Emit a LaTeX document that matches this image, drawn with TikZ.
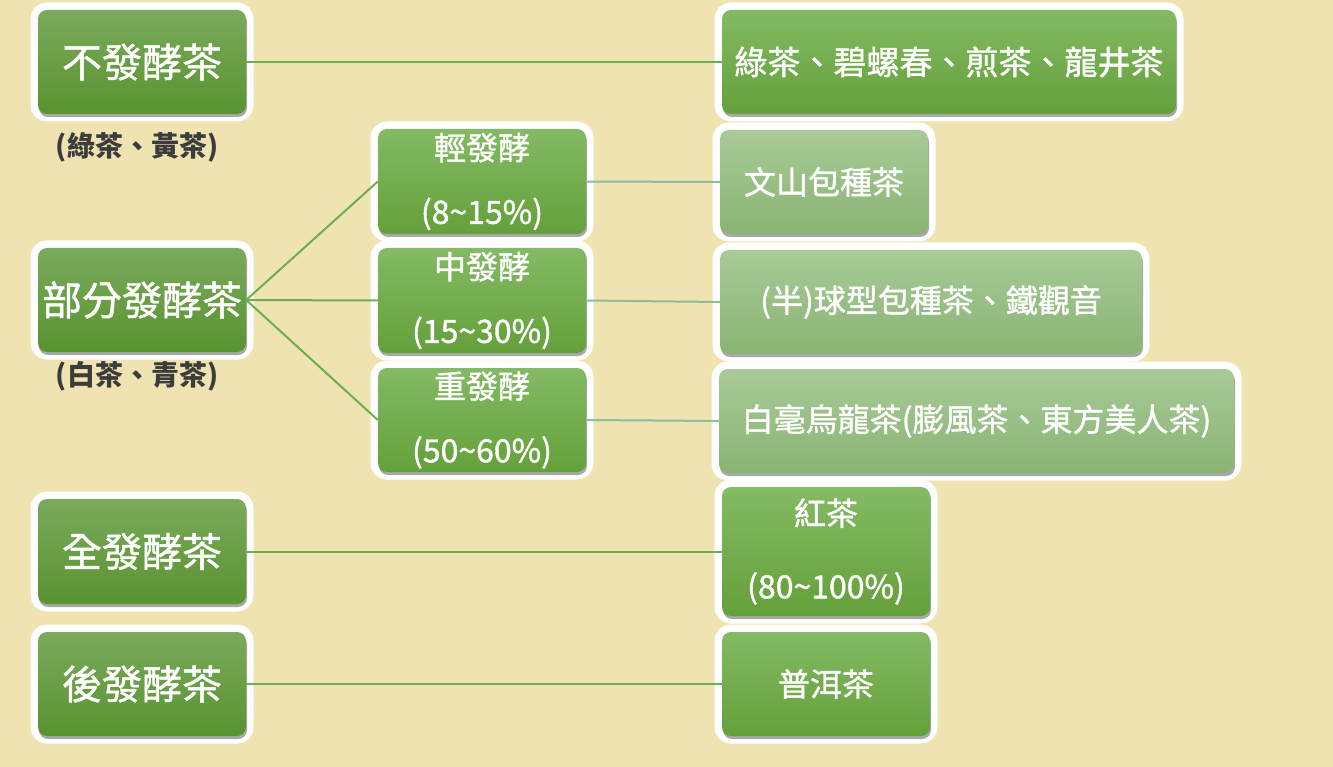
\documentclass[tikz,border=0pt]{standalone}
\usepackage{fontspec}
\setmainfont{Noto Sans CJK TC}
\newfontfamily\boxfont[FakeBold=1.2]{Noto Sans CJK TC}
\usetikzlibrary{shadows}
\definecolor{bg}{HTML}{EFE3B1}
\definecolor{dtop}{HTML}{7AAA5C}
\definecolor{dbot}{HTML}{5A9330}
\definecolor{mtop}{HTML}{84BA64}
\definecolor{mbot}{HTML}{64A03A}
\definecolor{ltop}{HTML}{A8CA98}
\definecolor{lbot}{HTML}{89B473}
\definecolor{linkg}{HTML}{6FAE50}
\definecolor{linkt}{HTML}{8DBE9C}
\definecolor{subt}{HTML}{3C3C3C}
\tikzset{
  boxbase/.style={rectangle, rounded corners=9pt, inner sep=0pt, text=white, align=center,
    preaction={draw=white, line width=15pt},
    drop shadow={shadow xshift=1pt, shadow yshift=-3pt, opacity=0.45, fill=black!75}},
  darkbox/.style={boxbase, top color=dtop, bottom color=dbot, font=\boxfont\fontsize{40}{48}\selectfont},
  midbox/.style={boxbase, top color=mtop, bottom color=mbot, font=\boxfont\fontsize{32}{38}\selectfont},
  lightbox/.style={boxbase, top color=ltop, bottom color=lbot, font=\boxfont\fontsize{32}{38}\selectfont},
  subtitle/.style={text=subt, font=\fontsize{28}{32}\selectfont\bfseries, inner sep=0pt},
  linkA/.style={draw=linkg, line width=2pt},
  linkB/.style={draw=linkt, line width=2pt}
}
\begin{document}
\begin{tikzpicture}[x=1pt,y=-1pt]
\fill[bg] (0,0) rectangle (1333,767);
\useasboundingbox (0,0) rectangle (1333,767);

% left column
\node[darkbox, minimum width=208pt, minimum height=104pt] (A1) at (142,62) {不發酵茶};
\node[darkbox, minimum width=208pt, minimum height=104pt] (A2) at (142,300) {部分發酵茶};
\node[darkbox, minimum width=208pt, minimum height=105pt] (A3) at (142,551.5) {全發酵茶};
\node[darkbox, minimum width=208pt, minimum height=104pt] (A4) at (142,684) {後發酵茶};
\node[subtitle] (S1) at (137,147) {(綠茶、黃茶)};
\node[subtitle] (S2) at (137,376) {(白茶、青茶)};

% middle column
\node[midbox, minimum width=208pt, minimum height=105pt] (B1) at (482,181.5) {輕發酵\\[26pt](8\textasciitilde 15\%)};
\node[midbox, minimum width=208pt, minimum height=105pt] (B2) at (482,300.5) {中發酵\\[26pt](15\textasciitilde 30\%)};
\node[midbox, minimum width=208pt, minimum height=104pt] (B3) at (482,420) {重發酵\\[26pt](50\textasciitilde 60\%)};

% right column
\node[midbox, minimum width=454pt, minimum height=104pt, font=\boxfont\fontsize{33}{38}\selectfont] (C1) at (949,62) {綠茶、碧螺春、煎茶、龍井茶};
\node[lightbox, minimum width=208pt, minimum height=104pt] (C2) at (824,182) {文山包種茶};
\node[lightbox, minimum width=422pt, minimum height=104pt] (C3) at (931,302) {(半)球型包種茶、鐵觀音};
\node[lightbox, minimum width=515pt, minimum height=104pt] (C4) at (976.5,421) {白毫烏龍茶(膨風茶、東方美人茶)};
\node[midbox, minimum width=208pt, minimum height=129pt] (C5) at (826,551.5) {紅茶\\[35pt](80\textasciitilde 100\%)};
\node[midbox, minimum width=208pt, minimum height=104pt] (C6) at (826,684) {普洱茶};

% connectors
\draw[linkA] (A1.east) -- (C1.west);
\draw[linkA] (A2.east) -- (B1.west);
\draw[linkA] (A2.east) -- (B2.west);
\draw[linkA] (A2.east) -- (B3.west);
\draw[linkA] (A3.east) -- (C5.west);
\draw[linkA] (A4.east) -- (C6.west);
\draw[linkB] (B1.east) -- (C2.west);
\draw[linkB] (B2.east) -- (C3.west);
\draw[linkB] (B3.east) -- (C4.west);
\end{tikzpicture}
\end{document}
